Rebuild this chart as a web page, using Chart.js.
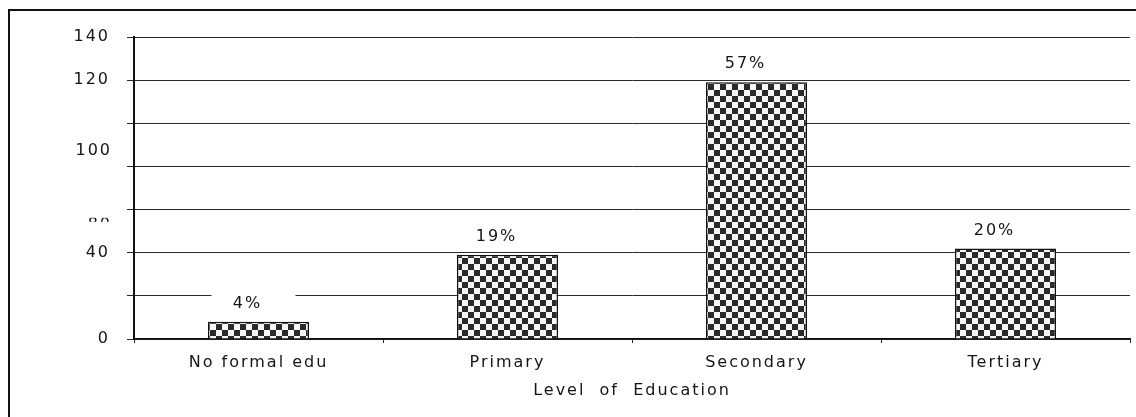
<!DOCTYPE html>
<html>
<head>
<meta charset="utf-8">
<script src="https://cdn.jsdelivr.net/npm/chart.js@4.4.1/dist/chart.umd.min.js"></script>
<style>
  html, body { margin: 0; padding: 0; background: #fff; }
  #wrap { width: 1136px; height: 417px; }
  canvas { display: block; }
</style>
</head>
<body>
<div id="wrap"><canvas id="c" width="1136" height="417"></canvas></div>
<script>
// Respondents by level of education
const categories = ['No formal edu', 'Primary', 'Secondary', 'Tertiary'];
const respondents = [8, 39, 119, 42];

// y-axis labels printed at their ticks, and the two printed off-tick
const yTicksShown = [0, 40, 120, 140];
const yLooseLabels = [
  { text: '100', value: 87 },
  { text: '80', value: 53 }
];
const xTitle = 'Level  of  Education';

const FONT = '"DejaVu Sans", Verdana, sans-serif';
const INK = '#151515';
const SPACING = '2px';
const SIZE = 16;

// checkerboard fill for the bars
function checkerPattern() {
  const c = document.createElement('canvas');
  c.width = 12; c.height = 12;
  const g = c.getContext('2d');
  g.fillStyle = '#f6f6f6';
  g.fillRect(0, 0, 12, 12);
  g.fillStyle = '#2a2a2a';
  g.fillRect(0, 0, 6, 6);
  g.fillRect(6, 6, 6, 6);
  return document.getElementById('c').getContext('2d').createPattern(c, 'repeat');
}

// wide letter spacing used by every text on the canvas
const spacedText = {
  id: 'spacedText',
  beforeLayout(chart) { chart.ctx.letterSpacing = SPACING; },
  beforeDraw(chart) { chart.ctx.letterSpacing = SPACING; }
};

// outer frame: top and left edges only
const frame = {
  id: 'frame',
  beforeDraw(chart) {
    const ctx = chart.ctx;
    ctx.save();
    ctx.fillStyle = '#fff';
    ctx.fillRect(0, 0, chart.width, chart.height);
    ctx.strokeStyle = '#111';
    ctx.lineWidth = 2;
    ctx.beginPath();
    ctx.moveTo(9, chart.height);
    ctx.lineTo(9, 10);
    ctx.lineTo(chart.width, 10);
    ctx.stroke();
    ctx.restore();
  }
};

// percentage labels above each bar, on a white box
const percentLabels = {
  id: 'percentLabels',
  afterDatasetsDraw(chart) {
    const ctx = chart.ctx;
    const total = respondents.reduce((a, b) => a + b, 0);
    const meta = chart.getDatasetMeta(0);
    ctx.save();
    ctx.letterSpacing = SPACING;
    ctx.font = SIZE + 'px ' + FONT;
    ctx.textAlign = 'center';
    ctx.textBaseline = 'middle';
    meta.data.forEach((bar, i) => {
      const txt = Math.round(respondents[i] / total * 100) + '%';
      const x = bar.x - 12;
      const y = bar.y - 18;
      ctx.fillStyle = '#fff';
      ctx.fillRect(x - 35, y - 12, 84, 22);
      ctx.fillStyle = INK;
      ctx.fillText(txt, x + 1, y);
    });
    ctx.restore();
  }
};

// y labels that sit between ticks
const looseYLabels = {
  id: 'looseYLabels',
  afterDraw(chart) {
    const ctx = chart.ctx;
    const ys = chart.scales.y;
    ctx.save();
    ctx.letterSpacing = SPACING;
    ctx.font = SIZE + 'px ' + FONT;
    ctx.textAlign = 'right';
    ctx.textBaseline = 'middle';
    ctx.fillStyle = INK;
    yLooseLabels.forEach((lab, i) => {
      const py = ys.getPixelForValue(lab.value);
      const px = ys.right - 24 + 2;
      ctx.save();
      if (i === 1) {
        // only the top of this one shows
        ctx.beginPath();
        ctx.rect(px - 40, py - 7, 44, 4);
        ctx.clip();
      }
      ctx.fillText(lab.text, px, py);
      ctx.restore();
    });
    ctx.restore();
  }
};

new Chart(document.getElementById('c'), {
  type: 'bar',
  data: {
    labels: categories,
    datasets: [{
      data: respondents,
      backgroundColor: checkerPattern(),
      borderColor: '#111',
      borderWidth: 1.5,
      borderSkipped: 'bottom',
      categoryPercentage: 1,
      barPercentage: 0.406
    }]
  },
  options: {
    responsive: false,
    animation: false,
    devicePixelRatio: 1,
    layout: { padding: { top: 37, right: 6, left: 0, bottom: 0 } },
    plugins: {
      legend: { display: false },
      tooltip: { enabled: false }
    },
    scales: {
      x: {
        afterFit(scale) { scale.height = 78; },
        grid: {
          display: true,
          drawOnChartArea: false,
          drawTicks: true,
          tickLength: 4,
          color: '#222',
          offset: true
        },
        border: { display: true, color: '#111', width: 1.5 },
        ticks: {
          color: INK,
          font: { family: FONT, size: SIZE },
          padding: 10,
          maxRotation: 0,
          autoSkip: false
        },
        title: {
          display: true,
          text: xTitle,
          color: INK,
          font: { family: FONT, size: SIZE },
          padding: { top: 0, bottom: 17 }
        }
      },
      y: {
        min: 0,
        max: 140,
        afterFit(scale) { scale.width = 134; },
        grid: {
          color: '#2a2a2a',
          lineWidth: 1,
          tickLength: 7,
          drawTicks: true
        },
        border: { display: true, color: '#111', width: 2 },
        ticks: {
          stepSize: 20,
          padding: 17,
          color: INK,
          font: { family: FONT, size: SIZE },
          callback: (v) => yTicksShown.includes(v) ? String(v) : ''
        }
      }
    }
  },
  plugins: [spacedText, frame, percentLabels, looseYLabels]
});
</script>
</body>
</html>
